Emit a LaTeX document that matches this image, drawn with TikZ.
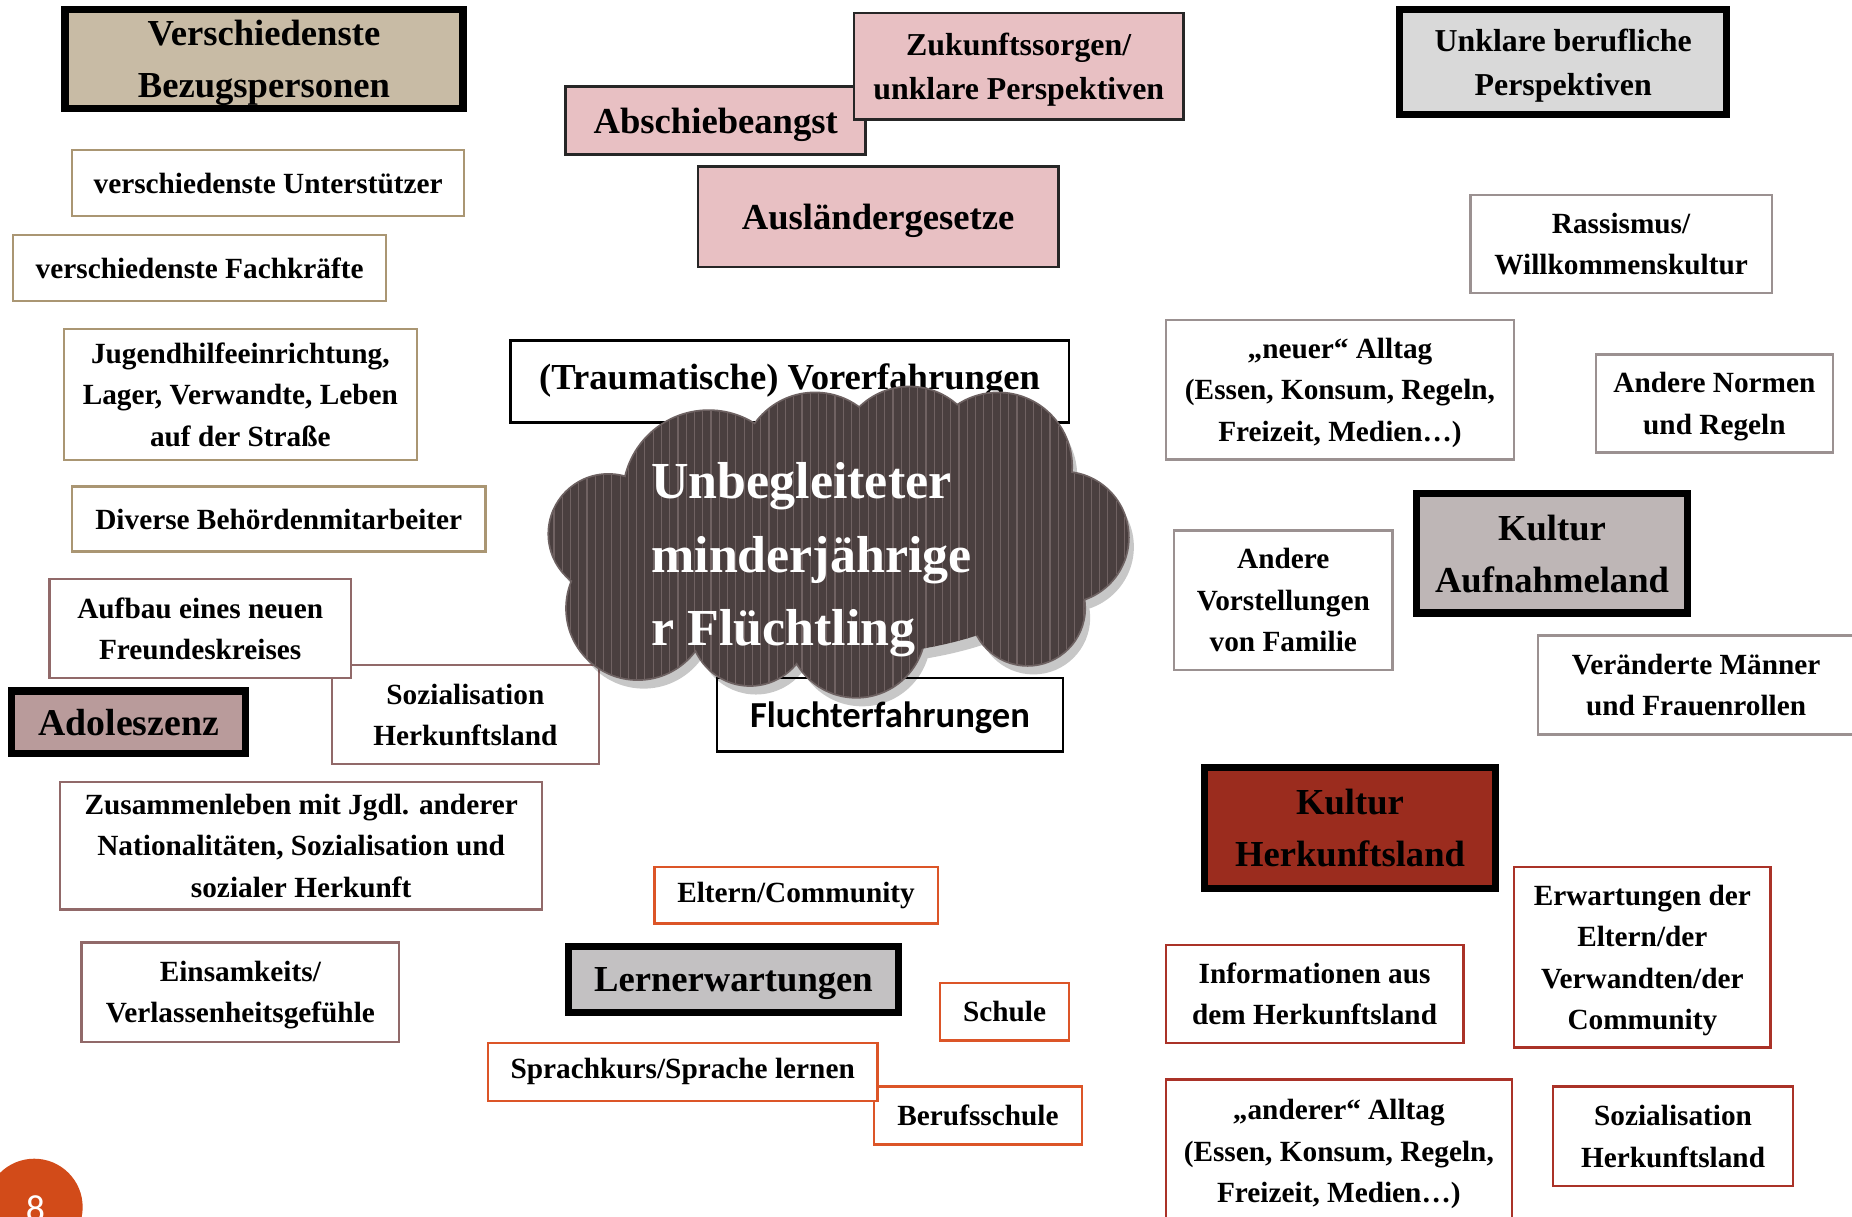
\documentclass[tikz,border=0pt]{standalone}
\usepackage{fontspec}
\setmainfont{Liberation Serif}
\newfontfamily\calfont{Carlito}
\definecolor{tanline}{RGB}{170,150,115}
\definecolor{tanfill}{RGB}{200,187,165}
\definecolor{mauveline}{RGB}{145,105,105}
\definecolor{adolfill}{RGB}{185,155,155}
\definecolor{grayline}{RGB}{155,145,145}
\definecolor{aufnfill}{RGB}{190,182,182}
\definecolor{unklarfill}{RGB}{217,217,217}
\definecolor{lernfill}{RGB}{195,193,194}
\definecolor{orangeline}{RGB}{220,85,40}
\definecolor{redline}{RGB}{170,50,40}
\definecolor{herkfill}{RGB}{155,44,30}
\definecolor{pinkfill}{RGB}{232,192,195}
\definecolor{pagecirc}{RGB}{210,75,25}
\definecolor{cloudfill}{RGB}{74,63,63}
\definecolor{cloudstripe}{RGB}{112,98,98}
\definecolor{cloudedge}{RGB}{110,98,98}
\def\cldpath{(515,452) circle (50) (540,515) circle (60) (600,420) circle (72)
 (690,395) circle (62) (770,388) circle (60) (845,395) circle (62)
 (900,455) circle (55) (870,515) circle (48) (725,532) circle (58)
 (635,530) circle (50) (710,465) circle [x radius=200, y radius=90]}
\begin{document}
\begin{tikzpicture}[x=0.5pt,y=-0.5pt,
  sz/.style 2 args={minimum width=#1pt, minimum height=#2pt},
  mls/.style={text depth=-3pt},
  mlb/.style={text depth=-1.5pt},
  mlm/.style={text depth=0pt},
  sgb/.style={text depth=-0.5pt},
  smallfont/.style={font=\bfseries\fontsize{12.4}{17.5}\selectfont},
  midfont/.style={font=\bfseries\fontsize{13.5}{18.5}\selectfont},
  bigfont/.style={font=\bfseries\fontsize{15.5}{22}\selectfont},
  thinbox/.style={draw, line width=1pt, fill=white, inner sep=0pt, align=center, smallfont},
  tanbox/.style={thinbox, draw=tanline},
  mauvebox/.style={thinbox, draw=mauveline},
  graybox/.style={thinbox, draw=grayline},
  orangebox/.style={thinbox, draw=orangeline},
  redbox/.style={thinbox, draw=redline},
  thickbox/.style={draw=black, line width=3pt, inner sep=0pt, align=center, bigfont},
  pinkbox/.style={draw=black!85, line width=1.2pt, fill=pinkfill, inner sep=0pt, align=center, bigfont},
  plainbox/.style={draw=black, line width=1.2pt, fill=white, inner sep=0pt, align=center}
]
\useasboundingbox (0,0) rectangle (1568,1030);
\clip (0,0) rectangle (1568,1030);
\fill[white] (0,0) rectangle (1568,1030);

% ---------- left column ----------
\node[thickbox, mlb, fill=tanfill, sz={168.5}{42}] (bezug) at (223.5,50) {Verschiedenste\\Bezugspersonen};
\node[tanbox, sz={166}{28}] (unterst) at (227,155) {verschiedenste Unterstützer};
\node[tanbox, sz={158}{28}] (fach) at (169,227) {verschiedenste Fachkräfte};
\node[tanbox, mls, sz={149.5}{55.5}] (jugend) at (203.5,334) {Jugendhilfeeinrichtung,\\Lager, Verwandte, Leben\\auf der Straße};
\node[tanbox, sz={175}{27.5}] (divers) at (236,439.5) {Diverse Behördenmitarbeiter};
\node[mauvebox, mls, sz={113}{42}] (sozL) at (394,605) {Sozialisation\\Herkunftsland};
\node[mauvebox, mls, sz={127.5}{42}] (aufbau) at (169.5,532) {Aufbau eines neuen\\Freundeskreises};
\node[thickbox, text depth=-4pt, fill=adolfill, sz={99}{26.5}, font=\bfseries\fontsize{16}{20}\selectfont] (adol) at (109,611.5) {Adoleszenz};
\node[mauvebox, mls, sz={204}{54}] (zusamm) at (255,716) {Zusammenleben mit Jgdl. anderer\\Nationalitäten, Sozialisation und\\sozialer Herkunft};
\node[mauvebox, mls, sz={134.5}{42}] (einsam) at (203.5,840) {Einsamkeits/\\Verlassenheitsgefühle};

% ---------- top middle ----------
\node[pinkbox, sgb, sz={127}{29}] (absch) at (606,102) {Abschiebeangst};
\node[pinkbox, mlm, sz={139.5}{45}, midfont] (zukunft) at (862.5,56) {Zukunftssorgen/\\unklare Perspektiven};
\node[pinkbox, sgb, sz={152.5}{42.5}] (ausl) at (743.5,183.5) {Ausländergesetze};

% ---------- centre ----------
\node[plainbox, sz={236.5}{35}] (traum) at (668.5,323) {};
\node[bigfont, inner sep=0pt] (traumtxt) at (668.5,322) {(Traumatische) Vorerfahrungen};
\node[plainbox, text depth=0pt, sz={146.5}{31}, font=\calfont\bfseries\fontsize{15.5}{18}\selectfont] (flucht) at (753.5,605) {Fluchterfahrungen};

% cloud
\begin{scope}[shift={(5,8)}]
  \fill[black, opacity=0.22] \cldpath;
\end{scope}
\fill[cloudedge] (515,452) circle (51.5) (540,515) circle (61.5) (600,420) circle (73.5)
 (690,395) circle (63.5) (770,388) circle (61.5) (845,395) circle (63.5)
 (900,455) circle (56.5) (870,515) circle (49.5) (725,532) circle (59.5)
 (635,530) circle (51.5);
\fill[cloudfill] \cldpath;
\begin{scope}
  \clip \cldpath;
  \foreach \xx in {462,469,...,960} {
    \draw[cloudstripe, line width=0.5pt] (\xx,320) -- (\xx,600);
  }
\end{scope}
\node[anchor=west, align=left, text=white, inner sep=0pt,
      font=\bfseries\fontsize{22}{31}\selectfont] (cloudtxt) at (551,474)
      {Unbegleiteter\\minderjährige\\r Flüchtling};

% ---------- bottom middle ----------
\node[orangebox, sz={120}{24}] (eltern) at (674,758) {Eltern/Community};
\node[thickbox, sgb, fill=lernfill, sz={140}{28}] (lern) at (621,829) {Lernerwartungen};
\node[orangebox, sz={54.5}{24.5}] (schule) at (850.5,856.5) {Schule};
\node[orangebox, sz={88}{24.5}] (beruf) at (828,944.5) {Berufsschule};
\node[orangebox, sz={165}{24.5}] (sprach) at (578,907.5) {Sprachkurs/Sprache lernen};

% ---------- right ----------
\node[thickbox, mlm, fill=unklarfill, sz={138.5}{44.5}, midfont] (unklar) at (1323.5,52.5) {Unklare berufliche\\Perspektiven};
\node[graybox, mls, sz={127.5}{41.5}] (rass) at (1372.5,206.5) {Rassismus/\\Willkommenskultur};
\node[graybox, mls, sz={147.5}{59}] (neuer) at (1134.5,330) {„neuer“ Alltag\\(Essen, Konsum, Regeln,\\Freizeit, Medien…)};
\node[graybox, mls, sz={100.5}{41.5}] (normen) at (1451.5,341.5) {Andere Normen\\und Regeln};
\node[thickbox, mlb, fill=aufnfill, sz={115}{50.5}] (kaufn) at (1314,468.5) {Kultur\\Aufnahmeland};
\node[graybox, mls, sz={92.5}{59}] (famil) at (1086.5,508) {Andere\\Vorstellungen\\von Familie};
\node[graybox, mls, sz={134}{42}] (maenner) at (1436,580) {Veränderte Männer\\und Frauenrollen};
\node[thickbox, mlb, fill=herkfill, sz={123}{51}] (kherk) at (1143,701) {Kultur\\Herkunftsland};
\node[redbox, mls, sz={108.5}{76.5}] (erwart) at (1390.5,810.5) {Erwartungen der\\Eltern/der\\Verwandten/der\\Community};
\node[redbox, mls, sz={126}{41.5}] (info) at (1113,841.5) {Informationen aus\\dem Herkunftsland};
\node[redbox, mls, sz={146.5}{60.5}] (anderer) at (1133.5,974.5) {„anderer“ Alltag\\(Essen, Konsum, Regeln,\\Freizeit, Medien…)};
\node[redbox, mls, sz={101.5}{42}] (sozR) at (1416.5,962) {Sozialisation\\Herkunftsland};

% ---------- page number ----------
\fill[pagecirc] (29,1022) circle (41);
\node[anchor=base, text=white, inner sep=0pt, font=\calfont\fontsize{16}{16}\selectfont] (pagenum) at (30,1034) {8};
\end{tikzpicture}
\end{document}
